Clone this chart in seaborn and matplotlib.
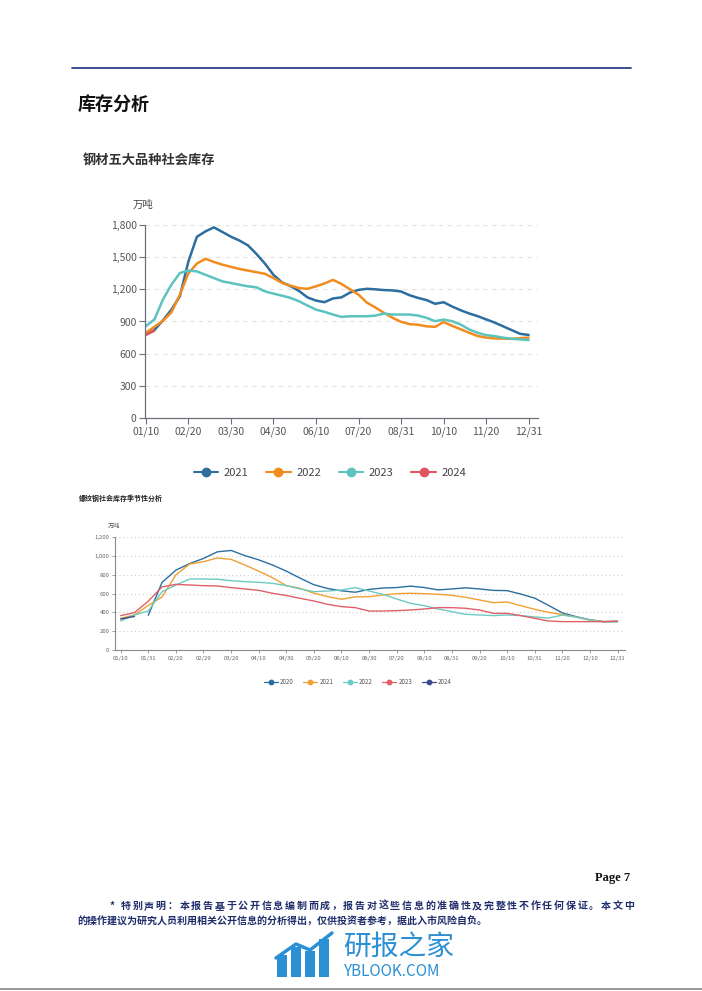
import numpy as np
import pandas as pd
import matplotlib
matplotlib.use("Agg")
import matplotlib.pyplot as plt
from matplotlib.lines import Line2D
from matplotlib.patches import Rectangle
import seaborn as sns

sns.set_style("white")
plt.rcParams['font.family'] = ['Noto Sans CJK SC', 'DejaVu Sans']

# ---- chart 1: 钢材五大品种社会库存 (46 weekly points, 01/10 .. 12/31)
ticks1 = ['01/10', '02/20', '03/30', '04/30', '06/10', '07/20', '08/31', '10/10', '11/20', '12/31']
s2021 = [779, 820, 910, 1010, 1135, 1460, 1690, 1740, 1778, 1735, 1691, 1655, 1610, 1530, 1440, 1335,
         1265, 1230, 1185, 1125, 1095, 1080, 1115, 1125, 1170, 1195, 1205, 1200, 1193, 1190, 1180, 1145,
         1120, 1100, 1065, 1080, 1040, 1005, 975, 950, 920, 890, 855, 820, 785, 775]
s2022 = [795, 850, 905, 985, 1150, 1350, 1440, 1485, 1455, 1430, 1410, 1390, 1375, 1360, 1345, 1305,
         1260, 1235, 1212, 1205, 1228, 1255, 1288, 1250, 1200, 1150, 1075, 1030, 980, 935, 897, 875,
         870, 855, 850, 895, 860, 828, 795, 765, 750, 742, 740, 738, 745, 750]
s2023 = [857, 918, 1104, 1243, 1352, 1376, 1367, 1336, 1305, 1274, 1259, 1243, 1228, 1219, 1181, 1160,
         1141, 1120, 1089, 1049, 1011, 990, 965, 943, 949, 949, 949, 955, 974, 965, 965, 965,
         955, 934, 903, 918, 903, 872, 826, 795, 773, 764, 749, 739, 733, 727]
s2024 = [775, 815]

# ---- chart 2: 螺纹钢社会库存季节性分析 (37 points, 01/10 .. 12/31)
ticks2 = ['01/10', '01/31', '02/20', '02/29', '03/20', '04/10', '04/30', '05/20', '06/10', '06/30',
          '07/20', '08/10', '08/31', '09/20', '10/10', '10/31', '11/20', '12/10', '12/31']
r2020 = [None, None, 370, 720, 850, 920, 975, 1045, 1060, 1005, 960, 905, 840, 765, 695, 655, 630, 615,
         645, 660, 665, 680, 665, 640, 650, 662, 650, 635, 632, 595, 552, 475, 395, 355, 322, 302, 305]
r2021 = [337, 373, 475, 565, 800, 915, 940, 980, 965, 905, 840, 770, 685, 657, 605, 568, 540, 566,
         568, 586, 600, 604, 600, 593, 582, 561, 533, 504, 511, 472, 433, 401, 378, 350, 320, 302, 302]
r2022 = [309, 373, 415, 620, 692, 756, 756, 753, 738, 728, 721, 710, 685, 650, 621, 628, 639, 664,
         628, 593, 543, 497, 472, 437, 408, 380, 373, 366, 373, 366, 352, 340, 372, 350, 318, 300, 298]
r2023 = [366, 398, 520, 672, 699, 692, 685, 682, 664, 650, 635, 604, 580, 550, 522, 486, 462, 451,
         415, 415, 419, 426, 437, 451, 451, 444, 426, 390, 390, 366, 337, 309, 302, 302, 302, 302, 308]
r2024 = [330, 358]

pal1 = {'2021': '#2c6e9f', '2022': '#f28c1e', '2023': '#5cc3bf', '2024': '#e0555e'}
pal2 = {'2020': '#2c6e9f', '2021': '#f0a033', '2022': '#6ccac4', '2023': '#e0606a', '2024': '#3b4a8c'}


def long_frame(series):
    rows = []
    for name, vals in series.items():
        for i, v in enumerate(vals):
            if v is not None:
                rows.append({'x': i, 'value': v, 'year': name})
    return pd.DataFrame(rows)


df1 = long_frame({'2021': s2021, '2022': s2022, '2023': s2023, '2024': s2024})
df2 = long_frame({'2020': r2020, '2021': r2021, '2022': r2022, '2023': r2023, '2024': r2024})

W, H = 702, 991
fig = plt.figure(figsize=(W / 100, H / 100), dpi=100)


def fx(px):
    return px / W


def fy(py):
    return 1 - py / H


# page decoration
fig.add_artist(Line2D([fx(72), fx(631)], [fy(68), fy(68)], color='#2b3f8c', lw=1.3))
fig.text(fx(78), fy(105), '库存分析', fontsize=13, fontweight='bold', va='center', color='#111')
fig.text(fx(83), fy(160), '钢材五大品种社会库存', fontsize=9.5, fontweight='bold', va='center', color='#333')

# chart 1
ax1 = fig.add_axes([fx(145), fy(418), fx(538) - fx(145), fy(225) - fy(418)])
sns.lineplot(data=df1, x='x', y='value', hue='year', palette=pal1, estimator=None, sort=False,
             linewidth=1.8, legend=False, ax=ax1)
ax1.set_xlim(-0.1, 46.1)
ax1.set_ylim(0, 1800)
ax1.set_yticks(range(0, 1801, 300))
ax1.set_yticklabels([f'{v:,}' for v in range(0, 1801, 300)])
ax1.set_xticks(range(0, 46, 5))
ax1.set_xticklabels(ticks1)
ax1.set_xlabel('')
ax1.set_ylabel('')
ax1.yaxis.grid(True, linestyle=(0, (4, 4)), color='#e3e3e3', lw=0.8)
ax1.xaxis.grid(False)
for s in ['top', 'right']:
    ax1.spines[s].set_visible(False)
for s in ['left', 'bottom']:
    ax1.spines[s].set_color('#6e7079')
    ax1.spines[s].set_linewidth(0.9)
ax1.tick_params(axis='both', length=4, width=0.8, color='#6e7079', labelsize=7.5,
                labelcolor='#555', pad=2, direction='out', bottom=True, left=True)
fig.text(fx(133), fy(205), '万吨', fontsize=7.5, color='#444', va='center')

h1 = [Line2D([], [], color=c, marker='o', markersize=6, lw=1.5) for c in pal1.values()]
fig.legend(h1, list(pal1.keys()), loc='center', bbox_to_anchor=(fx(330), fy(473)), ncol=4,
           frameon=False, fontsize=8, handlelength=2.2, columnspacing=1.6, handletextpad=0.5,
           labelcolor='#444')

# chart 2
fig.text(fx(79), fy(498), '螺纹钢社会库存季节性分析', fontsize=5, fontweight='bold', va='center', color='#222')
ax2 = fig.add_axes([fx(115), fy(650), fx(625) - fx(115), fy(537.3) - fy(650)])
sns.lineplot(data=df2, x='x', y='value', hue='year', palette=pal2, estimator=None, sort=False,
             linewidth=1.0, legend=False, ax=ax2)
ax2.set_xlim(-0.41, 36.54)
ax2.set_ylim(0, 1200)
ax2.set_yticks(range(0, 1201, 200))
ax2.set_yticklabels([f'{v:,}' for v in range(0, 1201, 200)])
ax2.set_xticks(range(0, 37, 2))
ax2.set_xticklabels(ticks2)
ax2.set_xlabel('')
ax2.set_ylabel('')
ax2.yaxis.grid(True, linestyle=(0, (1, 2.5)), color='#cfcfcf', lw=0.8)
ax2.xaxis.grid(False)
for s in ['top', 'right']:
    ax2.spines[s].set_visible(False)
for s in ['left', 'bottom']:
    ax2.spines[s].set_color('#8a8a8a')
    ax2.spines[s].set_linewidth(0.8)
ax2.tick_params(axis='both', length=2.5, width=0.6, color='#8a8a8a', labelsize=4.3,
                labelcolor='#666', pad=1.5, direction='out', bottom=True, left=True)
fig.text(fx(108), fy(526), '万吨', fontsize=4.5, color='#555', va='center')

h2 = [Line2D([], [], color=c, marker='o', markersize=3.2, lw=0.9) for c in pal2.values()]
fig.legend(h2, list(pal2.keys()), loc='center', bbox_to_anchor=(fx(358), fy(682)), ncol=5,
           frameon=False, fontsize=4.5, handlelength=2.2, columnspacing=1.5, handletextpad=0.4,
           labelcolor='#555')

# footer
fig.text(fx(630), fy(878), 'Page 7', fontsize=9, fontweight='bold', family='Liberation Serif',
         ha='right', va='center', color='#111')
line1 = '*特别声明：本报告基于公开信息编制而成，报告对这些信息的准确性及完整性不作任何保证。本文中'
line2 = '的操作建议为研究人员利用相关公开信息的分析得出，仅供投资者参考，据此入市风险自负。'
step = (636 - 109) / len(line1)
for k, ch in enumerate(line1):
    fig.text(fx(109 + k * step), fy(906), ch, fontsize=7.2, fontweight='bold', color='#1f2d6b', va='center')
fig.text(fx(77), fy(922), line2, fontsize=7.2, fontweight='bold', color='#1f2d6b', va='center')

# watermark logo
blue = '#2b8fd4'
for bx, bh in [(277, 22), (291, 30), (305, 26), (319, 38)]:
    fig.add_artist(Rectangle((fx(bx), fy(977)), fx(10), bh / H, color=blue, lw=0))
fig.add_artist(Line2D([fx(276), fx(296), fx(310), fx(332)], [fy(958), fy(944), fy(950), fy(933)],
                      color=blue, lw=2.5))
fig.text(fx(343), fy(947), '研报之家', fontsize=20, color=blue, va='center')
fig.text(fx(344), fy(972), 'YBLOOK.COM', fontsize=11, color=blue, va='center')
fig.add_artist(Line2D([0, 1], [fy(989), fy(989)], color='#888', lw=1.2))

fig.savefig('out.png', dpi=100)
